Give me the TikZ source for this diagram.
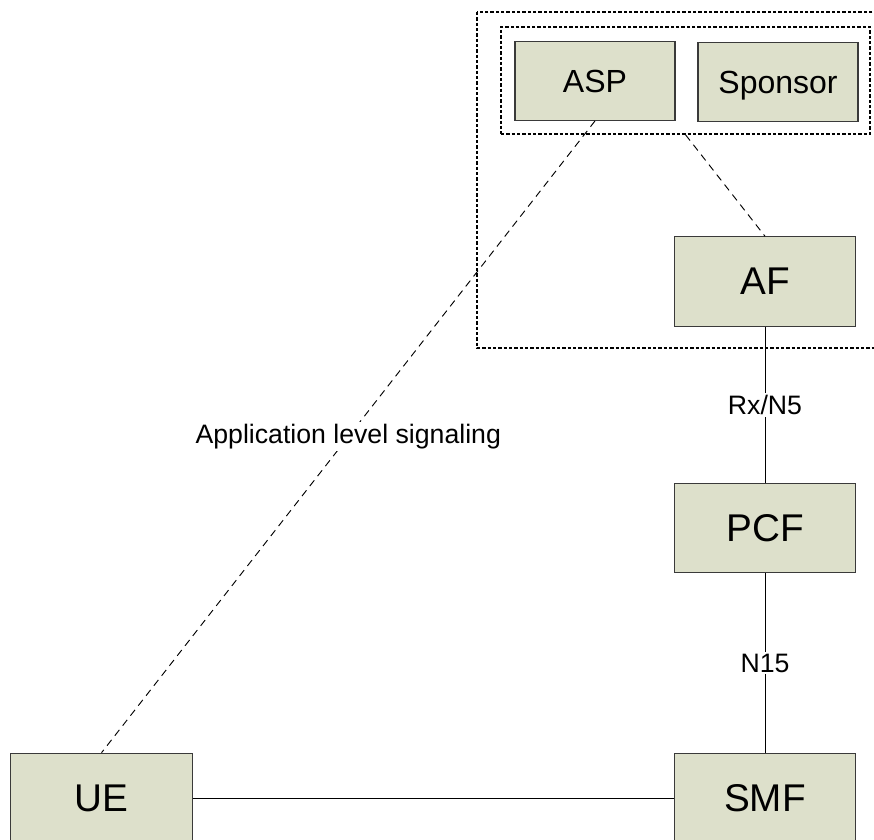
\documentclass[tikz,border=0pt]{standalone}
\usepackage{fontspec}
\setmainfont{Liberation Sans}
\definecolor{nffill}{HTML}{DDE0CB}
\definecolor{nfline}{HTML}{3A3A3A}
\usetikzlibrary{positioning, fit}

\begin{document}
\begin{tikzpicture}[x=0.75pt, y=-0.75pt,
      nf/.style={draw=nfline, fill=nffill, line width=0.9pt, inner sep=0pt,
                 font=\fontsize{29}{31}\selectfont,
                 minimum width=136pt, minimum height=67pt},
      small/.style={nf, font=\fontsize{24}{26}\selectfont,
                    text height=17pt, text depth=0pt,
                    minimum width=120pt, minimum height=59pt},
      group/.style={draw=black, line width=1.1pt,
                    dash pattern=on 2.4pt off 1.6pt, inner sep=0pt},
      lbl/.style={fill=white, inner sep=1.5pt, font=\fontsize{20}{22}\selectfont},
      ref/.style={line width=0.7pt, black},
      sig/.style={ref, dash pattern=on 5.5pt off 4pt}
    ]
      \clip (0,0) rectangle (874,839);
      \fill[white] (0,0) rectangle (874,839);

      % operator domain
      \draw[group] (477,12) rectangle (920,348);
      \node[group, minimum width=276.75pt, minimum height=80.25pt] (grp) at (685.5,80.5) {};

      \node[small] (asp) at (595,81) {ASP};
      \node[small] (sponsor) at (778,82) {Sponsor};
      \node[nf] (af) at (765,281.5) {AF};
      \node[nf] (pcf) at (765,528) {PCF};
      \node[nf] (smf) at (765,798) {SMF};
      \node[nf] (ue) at (101.5,798) {UE};

      \draw[sig] (grp.south) -- (af.north);
      \draw[sig] (asp.south) -- node[lbl] {Application level signaling} (ue.north);
      \draw[ref] (af) -- node[lbl] {Rx/N5} (pcf);
      \draw[ref] (pcf) -- node[lbl] {N15} (smf);
      \draw[ref] (ue) -- (smf);
    \end{tikzpicture}
\end{document}
